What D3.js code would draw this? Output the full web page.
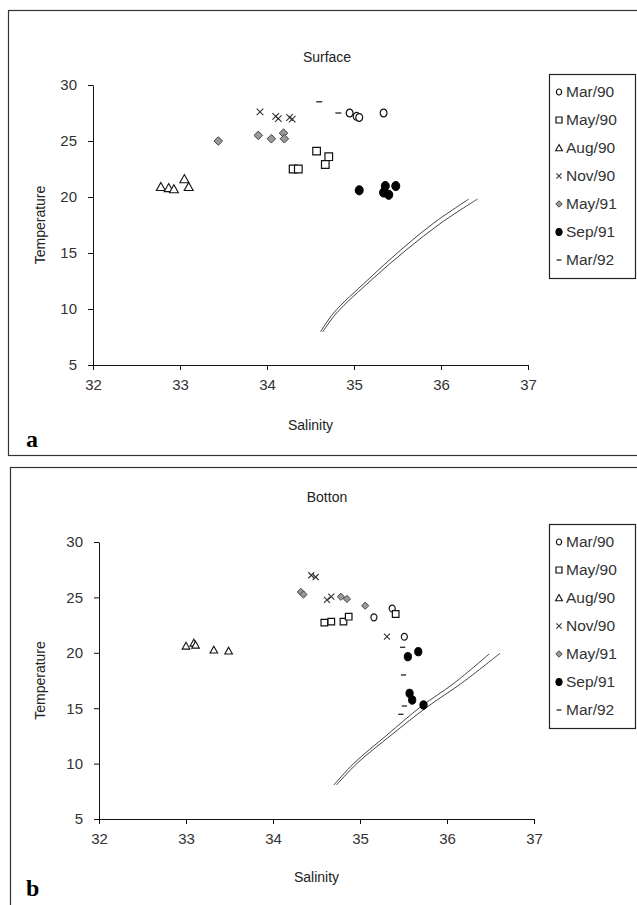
<!DOCTYPE html>
<html>
<head>
<meta charset="utf-8">
<script src="https://cdn.jsdelivr.net/npm/d3@7/dist/d3.min.js"></script>
<style>
  body { margin: 0; background: #fff; }
  text { font-family: Arial, "Liberation Sans", sans-serif; fill: #222; }
</style>
</head>
<body>
<svg id="chart" width="637" height="905"></svg>
<script>
// legend / series names and axis ticks
const seriesNames = ["Mar/90", "May/90", "Aug/90", "Nov/90", "May/91", "Sep/91", "Mar/92"];
const xTicks = [32, 33, 34, 35, 36, 37];
const yTicks = [5, 10, 15, 20, 25, 30];

// Surface readings, [salinity, temperature]
const surfMar90 = [[34.95, 27.5], [35.03, 27.2], [35.06, 27.1], [35.34, 27.5]];
const surfMay90 = [[34.57, 24.1], [34.71, 23.6], [34.67, 22.9], [34.30, 22.5], [34.36, 22.5]];
const surfAug90 = [[32.78, 20.9], [32.87, 20.8], [32.93, 20.7], [33.05, 21.6], [33.10, 20.9]];
const surfNov90 = [[33.92, 27.6], [34.10, 27.2], [34.13, 27.0], [34.26, 27.1], [34.29, 26.95]];
const surfMay91 = [[33.44, 25.0], [33.90, 25.5], [34.05, 25.2], [34.19, 25.7], [34.20, 25.2]];
const surfSep91 = [[35.06, 20.6], [35.36, 20.98], [35.48, 20.98], [35.34, 20.4], [35.40, 20.2]];
const surfMar92 = [[34.60, 28.5], [34.82, 27.5]];
const surfCurve1 = [[34.615, 7.95], [34.765, 9.64], [35.157, 12.59], [35.537, 15.27], [35.917, 17.68], [36.32, 19.82]];
const surfCurve2 = [[34.64, 7.95], [34.80, 9.64], [35.20, 12.59], [35.60, 15.27], [36.00, 17.68], [36.42, 19.82]];

// Botton readings, [salinity, temperature]
const botMar90 = [[35.16, 23.2], [35.37, 24.0], [35.51, 21.45]];
const botMay90 = [[34.59, 22.72], [34.67, 22.81], [34.81, 22.81], [34.87, 23.26], [35.41, 23.5]];
const botAug90 = [[33.00, 20.61], [33.09, 20.88], [33.11, 20.70], [33.32, 20.25], [33.49, 20.16]];
const botNov90 = [[34.44, 27.0], [34.49, 26.84], [34.62, 24.77], [34.67, 25.06], [35.31, 21.45]];
const botMay91 = [[34.32, 25.49], [34.35, 25.26], [34.78, 25.06], [34.85, 24.86], [35.06, 24.25]];
const botSep91 = [[35.55, 19.65], [35.67, 20.1], [35.57, 16.34], [35.60, 15.74], [35.73, 15.29]];
const botMar92 = [[35.49, 20.5], [35.50, 18.0], [35.51, 15.2], [35.47, 14.45]];
const botCurve1 = [[34.70, 8.07], [34.93, 10.03], [35.31, 12.58], [35.70, 15.14], [36.08, 17.25], [36.485, 19.9]];
const botCurve2 = [[34.73, 8.07], [34.97, 10.05], [35.36, 12.58], [35.77, 15.1], [36.17, 17.27], [36.61, 19.96]];

const svg = d3.select("#chart");

// marker shapes, r = half size
const shapes = {
  circle: r => `M${r},0A${r},${r * 1.15} 0 1,1 ${-r},0A${r},${r * 1.15} 0 1,1 ${r},0Z`,
  square: r => `M${-r},${-r}h${2 * r}v${2 * r}h${-2 * r}Z`,
  triangle: r => `M0,${-r}L${r},${r * 0.8}L${-r},${r * 0.8}Z`,
  cross: r => `M${-r},${-r}L${r},${r}M${r},${-r}L${-r},${r}`,
  diamond: r => `M0,${-r}L${r},0L0,${r}L${-r},0Z`,
  dash: r => `M${-r},0H${r}`
};
const styles = [
  { shape: "circle",   fill: "#fff",  stroke: "#111", sw: 1.2 },
  { shape: "square",   fill: "#fff",  stroke: "#111", sw: 1.2 },
  { shape: "triangle", fill: "#fff",  stroke: "#111", sw: 1.1 },
  { shape: "cross",    fill: "none",  stroke: "#333", sw: 1.1 },
  { shape: "diamond",  fill: "#999",  stroke: "#444", sw: 1 },
  { shape: "circle",   fill: "#000",  stroke: "#000", sw: 1 },
  { shape: "dash",     fill: "none",  stroke: "#222", sw: 1.3 }
];

const panels = [
  {
    title: "Surface", tag: "a", box: [8, 10, 660, 445],
    xr: [93, 528], yr: [365, 85], titleY: 62, salY: 430, tagY: 447, tempX: 45,
    ytickRight: 82, legendY: 74,
    series: [surfMar90, surfMay90, surfAug90, surfNov90, surfMay91, surfSep91, surfMar92],
    curves: [surfCurve1, surfCurve2],
    sizes: [3.4, 3.8, 4.5, 3.3, 4.3, 4, 3]
  },
  {
    title: "Botton", tag: "b", box: [10, 467, 660, 460],
    xr: [99, 534], yr: [819, 542], titleY: 502, salY: 882, tagY: 896, tempX: 45,
    ytickRight: 88, legendY: 524,
    series: [botMar90, botMay90, botAug90, botNov90, botMay91, botSep91, botMar92],
    curves: [botCurve1, botCurve2],
    sizes: [3, 3.3, 3.8, 3, 3.6, 3.6, 2.6]
  }
];

function marker(sel, i, r) {
  const st = styles[i];
  sel.append("path")
    .attr("d", shapes[st.shape](r))
    .attr("fill", st.fill)
    .attr("stroke", st.stroke)
    .attr("stroke-width", st.sw);
}

panels.forEach(p => {
  const x = d3.scaleLinear().domain([32, 37]).range(p.xr);
  const y = d3.scaleLinear().domain([5, 30]).range(p.yr);
  const g = svg.append("g");

  g.append("rect")
    .attr("x", p.box[0] + 0.5).attr("y", p.box[1] + 0.5)
    .attr("width", p.box[2]).attr("height", p.box[3])
    .attr("fill", "none").attr("stroke", "#333").attr("stroke-width", 1.2);

  // axes
  const xa = g.append("g")
    .attr("transform", `translate(0,${p.yr[0]})`)
    .call(d3.axisBottom(x).tickValues(xTicks).tickFormat(d3.format("d"))
      .tickSize(5).tickSizeOuter(0).tickPadding(9));
  const ya = g.append("g")
    .attr("transform", `translate(${p.xr[0]},0)`)
    .call(d3.axisLeft(y).tickValues(yTicks).tickFormat(d3.format("d"))
      .tickSize(5).tickSizeOuter(0).tickPadding(p.xr[0] - p.ytickRight));
  [xa, ya].forEach(a => {
    a.attr("font-family", null).attr("font-size", null);
    a.selectAll("path, line").attr("stroke", "#111");
    a.selectAll("text").style("font-size", "15px").style("fill", "#333");
  });

  // titles
  g.append("text").attr("x", 327).attr("y", p.titleY)
    .attr("text-anchor", "middle").style("font-size", "14px").text(p.title);
  g.append("text").attr("x", (p.xr[0] + p.xr[1]) / 2).attr("y", p.salY)
    .attr("text-anchor", "middle").style("font-size", "14px").text("Salinity");
  g.append("text")
    .attr("transform", `translate(${p.tempX},${(p.yr[0] + p.yr[1]) / 2}) rotate(-90)`)
    .attr("text-anchor", "middle").style("font-size", "14px").text("Temperature");
  g.append("text").attr("x", 26).attr("y", p.tagY)
    .style("font-family", "'Liberation Serif', 'DejaVu Serif', serif")
    .style("font-weight", "bold").style("font-size", "24px").style("fill", "#000")
    .text(p.tag);

  // reference curves
  const line = d3.line().x(d => x(d[0])).y(d => y(d[1])).curve(d3.curveCatmullRom);
  g.selectAll(".curve").data(p.curves).join("path")
    .attr("class", "curve")
    .attr("d", line)
    .attr("fill", "none").attr("stroke", "#444").attr("stroke-width", 1);

  // points
  p.series.forEach((pts, i) => {
    g.append("g").selectAll("g").data(pts).join("g")
      .attr("transform", d => `translate(${x(d[0])},${y(d[1])})`)
      .each(function () { marker(d3.select(this), i, p.sizes[i]); });
  });

  // legend
  const lg = g.append("g").attr("transform", `translate(549,${p.legendY})`);
  lg.append("rect").attr("x", 0.5).attr("y", 0.5).attr("width", 86).attr("height", 204)
    .attr("fill", "#fff").attr("stroke", "#222").attr("stroke-width", 1.2);
  seriesNames.forEach((name, i) => {
    const row = lg.append("g").attr("transform", `translate(0,${18 + i * 28})`);
    const mk = row.append("g").attr("transform", "translate(10,0)");
    marker(mk, i, [2.6, 3, 3.4, 2.6, 3.2, 3.2, 2.4][i]);
    row.append("text").attr("x", 17).attr("y", 0).attr("dy", "0.35em")
      .style("font-size", "15.5px").style("fill", "#333").text(name);
  });
});
</script>
</body>
</html>
